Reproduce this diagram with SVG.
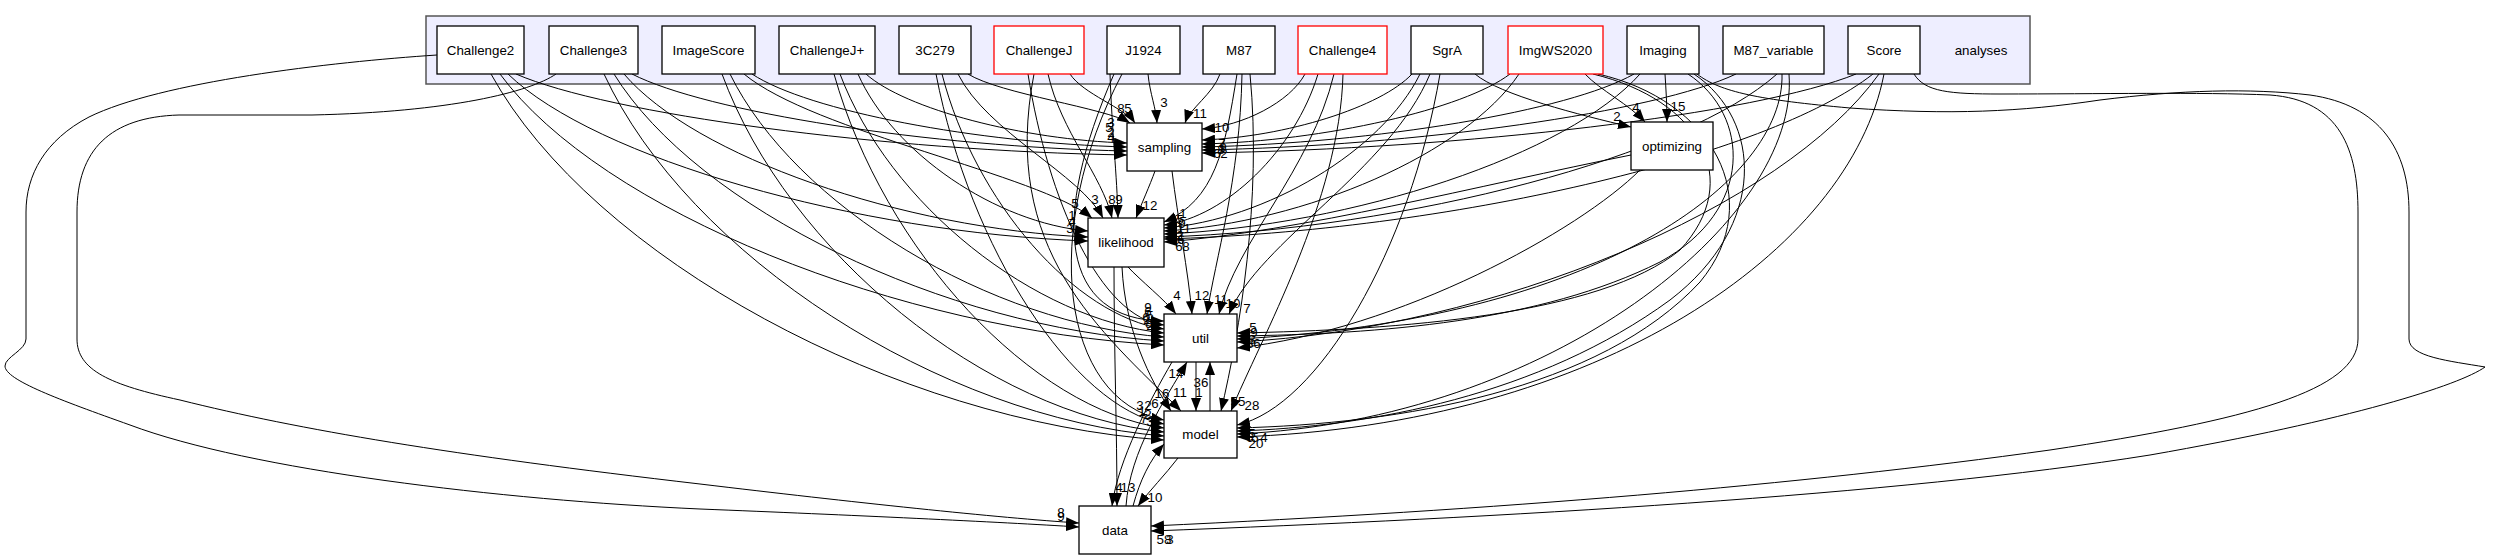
<svg xmlns="http://www.w3.org/2000/svg" width="2500" height="560" viewBox="0 0 2500 560">
<style>
.n rect{fill:#fff;stroke:#000;stroke-width:1.3}
.n.r rect{stroke:#ff0000}
text{font-family:"Liberation Sans",Arial,Helvetica,sans-serif;font-size:13.33px;fill:#000}
.n text{text-anchor:middle}
#edges path{fill:none;stroke:#000;stroke-width:1;marker-end:url(#ah)}
#edges text{text-anchor:middle}
</style>
<defs>
<marker id="ah" markerWidth="14" markerHeight="10" refX="13" refY="5" orient="auto" markerUnits="userSpaceOnUse"><path d="M0,0 L13,5 L0,10 z" fill="#000"/></marker>
</defs>
<rect width="2500" height="560" fill="#fff"/>
<g id="cluster_analyses">
<rect x="426" y="16" width="1604" height="68" fill="#eeeeff" stroke="#555" stroke-width="1.5"/>
<text x="1981" y="55" text-anchor="middle">analyses</text>
</g>
<g id="edges">
<!-- to sampling -->
<path d="M516,74 C608,114 883,151 1127,155"/>
<path d="M632,74 C706,112 929,147 1127,151"/>
<path d="M752,74 C808,111 977,143 1127,147"/>
<path d="M866,74 C905,109 1023,140 1127,143"/>
<path d="M968,74 C1000,94 1106,108 1130,123"/>
<path d="M1070,74 C1083,94 1125,108 1135,123"/>
<path d="M1148,74 C1150,94 1156,108 1157,123"/>
<path d="M1220,74 C1213,94 1190,108 1185,123"/>
<path d="M1305,74 C1290,102 1243,126 1202,129"/>
<path d="M1412,74 C1381,107 1286,137 1202,140"/>
<path d="M1510,74 C1464,109 1325,141 1202,144"/>
<path d="M1634,74 C1569,111 1375,143 1202,147"/>
<path d="M1736,74 C1656,112 1416,146 1202,150"/>
<path d="M1856,74 C1758,114 1464,149 1202,153"/>
<!-- to likelihood -->
<path d="M508,74 C595,158 856,233 1088,241"/>
<path d="M624,74 C694,156 902,229 1088,237"/>
<path d="M858,74 C893,153 996,223 1088,231"/>
<path d="M744,74 C814,132 1040,175 1092,218"/>
<path d="M958,74 C987,132 1081,175 1103,218"/>
<path d="M1048,74 C1061,132 1102,175 1112,218"/>
<path d="M1110,74 C1112,132 1117,175 1118,218"/>
<path d="M1237,74 C1225,150 1215,200 1164,222"/>
<path d="M1318,74 C1295,150 1226,217 1164,225"/>
<path d="M1420,74 C1382,151 1266,220 1164,228"/>
<path d="M1519,74 C1466,153 1306,223 1164,231"/>
<path d="M1640,74 C1569,154 1354,226 1164,234"/>
<path d="M1777,74 C1685,156 1409,229 1164,237"/>
<path d="M1873,74 C1767,157 1448,231 1164,239"/>
<path d="M1631,155 C1480,185 1300,232 1164,242"/>
<path d="M1155,171 C1150,185 1141,205 1136,218"/>
<!-- to util -->
<path d="M1128,267 C1140,280 1165,300 1176,314"/>
<path d="M1172,171 C1178,220 1188,270 1192,314"/>
<path d="M1242,74 C1240,180 1215,260 1207,314"/>
<path d="M1334,74 C1311,170 1236,242 1219,314"/>
<path d="M1430,74 C1390,170 1259,242 1229,314"/>
<path d="M500,74 C600,210 898,331 1164,345"/>
<path d="M614,74 C697,208 944,328 1164,341"/>
<path d="M730,74 C795,206 990,324 1164,337"/>
<path d="M840,74 C889,204 1034,320 1164,333"/>
<path d="M942,74 C975,202 1075,316 1164,329"/>
<path d="M1028,74 C1048,200 1100,318 1164,325"/>
<path d="M1114,74 C1050,220 1060,320 1164,321"/>
<path d="M1593,74 C1700,100 1745,180 1680,250 C1600,315 1400,330 1237,333"/>
<path d="M1688,74 C1750,115 1755,210 1660,262 C1540,322 1380,334 1237,336"/>
<path d="M1782,74 C1785,180 1600,320 1237,339"/>
<path d="M1879,74 C1783,208 1494,329 1237,342"/>
<path d="M1640,170 C1580,230 1400,330 1237,348"/>
<!-- to model -->
<path d="M1196,362 L1196,411"/>
<path d="M1210,411 L1210,362"/>
<path d="M1122,267 C1125,330 1150,380 1171,411"/>
<path d="M1034,74 C1000,250 1100,330 1181,411"/>
<path d="M491,74 C592,257 895,422 1164,440"/>
<path d="M604,74 C688,255 940,418 1164,436"/>
<path d="M722,74 C788,253 987,414 1164,432"/>
<path d="M834,74 C884,251 1032,410 1164,428"/>
<path d="M936,74 C970,249 1073,407 1164,424"/>
<path d="M1122,74 C1040,230 1060,400 1164,420"/>
<path d="M1133,506 C1140,480 1150,460 1164,444"/>
<path d="M1250,74 C1262,200 1240,330 1221,411"/>
<path d="M1343,74 C1340,200 1260,340 1231,411"/>
<path d="M1440,74 C1410,250 1318,407 1237,425"/>
<path d="M1598,74 C1712,100 1768,200 1700,282 C1600,390 1400,424 1237,428"/>
<path d="M1694,74 C1762,120 1768,225 1670,300 C1540,395 1370,427 1237,431"/>
<path d="M1789,74 C1800,220 1550,420 1237,434"/>
<path d="M1884,74 C1850,250 1600,425 1237,437"/>
<!-- to data -->
<path d="M437,55 C330,62 160,82 89,117 C45,140 26,175 26,212 L26,339 C26,350 5,357 5,366 C5,380 60,400 130,425 C250,470 500,500 700,509 C850,515 1000,522 1079,527"/>
<path d="M556,74 C530,92 450,112 312,115 L179,115 C110,117 77,150 77,212 L77,339 C77,370 110,385 180,400 C300,430 450,455 700,484 C850,502 1000,518 1079,523"/>
<path d="M1172,362 C1150,400 1118,460 1112,506"/>
<path d="M1114,267 C1114,350 1117,430 1117,506"/>
<path d="M1178,458 C1165,475 1150,490 1138,506"/>
<path d="M1126,506 C1130,450 1165,400 1187,362"/>
<path d="M1697,74 C1720,92 1760,100 1850,108 C1950,115 2020,112 2100,100 C2180,90 2250,88 2310,95 C2380,105 2409,150 2409,212 L2409,339 C2409,357 2450,361 2485,367 C2460,385 2350,420 2150,455 C1900,495 1500,518 1151,531"/>
<path d="M1914,74 C1925,92 1950,94 2000,94 C2100,94 2200,92 2270,95 C2340,100 2358,150 2358,212 L2358,339 C2358,390 2250,420 2050,450 C1800,485 1500,510 1151,526"/>
<!-- to optimizing -->
<path d="M1475,74 C1500,95 1580,115 1631,127"/>
<path d="M1585,74 C1600,90 1630,105 1645,122"/>
<path d="M1665,74 C1666,90 1667,105 1667,122"/>
<!-- labels -->
<text x="1111" y="142">4</text><text x="1111" y="137">2</text><text x="1109" y="132">5</text><text x="1111" y="127">3</text>
<text x="1121" y="113">8</text><text x="1128" y="113">5</text>
<text x="1164" y="107">3</text>
<text x="1200" y="118">11</text>
<text x="1222" y="132">10</text>
<text x="1222" y="148">7</text><text x="1223" y="152">9</text><text x="1217" y="158">6</text><text x="1224" y="158">2</text><text x="1221" y="154">8</text>
<text x="1070" y="233">3</text><text x="1072" y="226">4</text><text x="1072" y="220">1</text>
<text x="1075" y="208">5</text><text x="1095" y="204">3</text><text x="1112" y="204">8</text><text x="1119" y="204">9</text>
<text x="1150" y="210">12</text>
<text x="1183" y="218">1</text><text x="1180" y="224">5</text><text x="1182" y="228">9</text><text x="1184" y="233">11</text><text x="1180" y="240">2</text><text x="1181" y="244">6</text><text x="1179" y="251">6</text><text x="1186" y="251">8</text>
<text x="1177" y="300">4</text><text x="1202" y="300">12</text><text x="1221" y="304">11</text><text x="1233" y="308">10</text><text x="1247" y="313">7</text>
<text x="1148" y="316">6</text><text x="1150" y="320">5</text><text x="1147" y="324">2</text><text x="1149" y="328">8</text><text x="1146" y="322">6</text><text x="1150" y="330">2</text><text x="1148" y="312">9</text>
<text x="1253" y="332">5</text><text x="1254" y="337">9</text><text x="1250" y="348">3</text><text x="1257" y="348">6</text><text x="1252" y="344">3</text>
<text x="1176" y="378">14</text><text x="1201" y="387">36</text>
<text x="1199" y="397">1</text><text x="1162" y="398">16</text><text x="1180" y="397">11</text>
<text x="1238" y="406">55</text><text x="1252" y="410">28</text>
<text x="1140" y="410">3</text><text x="1148" y="410">2</text><text x="1155" y="408">6</text><text x="1142" y="416">1</text><text x="1148" y="419">2</text><text x="1144" y="423">7</text><text x="1150" y="426">3</text>
<text x="1252" y="438">5</text><text x="1250" y="442">6</text><text x="1256" y="448">20</text><text x="1255" y="442">5</text><text x="1264" y="442">4</text>
<text x="1061" y="517">8</text><text x="1061" y="521">9</text>
<text x="1119" y="492">4</text><text x="1128" y="492">13</text>
<text x="1155" y="502">10</text>
<text x="1164" y="544">58</text><text x="1170" y="544">3</text>
<text x="1617" y="121">2</text><text x="1636" y="112">4</text><text x="1678" y="111">15</text>
</g>
<g id="node_Challenge2" class="n"><rect x="437" y="26" width="87" height="48"/><text x="480.5" y="55">Challenge2</text></g>
<g id="node_Challenge3" class="n"><rect x="549" y="26" width="89" height="48"/><text x="593.5" y="55">Challenge3</text></g>
<g id="node_ImageScore" class="n"><rect x="662" y="26" width="93" height="48"/><text x="708.5" y="55">ImageScore</text></g>
<g id="node_ChallengeJplus" class="n"><rect x="779" y="26" width="96" height="48"/><text x="827" y="55">ChallengeJ+</text></g>
<g id="node_3C279" class="n"><rect x="899" y="26" width="72" height="48"/><text x="935" y="55">3C279</text></g>
<g id="node_ChallengeJ" class="n r"><rect x="994" y="26" width="90" height="48"/><text x="1039" y="55">ChallengeJ</text></g>
<g id="node_J1924" class="n"><rect x="1107" y="26" width="73" height="48"/><text x="1143.5" y="55">J1924</text></g>
<g id="node_M87" class="n"><rect x="1203" y="26" width="72" height="48"/><text x="1239" y="55">M87</text></g>
<g id="node_Challenge4" class="n r"><rect x="1298" y="26" width="89" height="48"/><text x="1342.5" y="55">Challenge4</text></g>
<g id="node_SgrA" class="n"><rect x="1411" y="26" width="72" height="48"/><text x="1447" y="55">SgrA</text></g>
<g id="node_ImgWS2020" class="n r"><rect x="1508" y="26" width="95" height="48"/><text x="1555.5" y="55">ImgWS2020</text></g>
<g id="node_Imaging" class="n"><rect x="1627" y="26" width="72" height="48"/><text x="1663" y="55">Imaging</text></g>
<g id="node_M87_variable" class="n"><rect x="1723" y="26" width="101" height="48"/><text x="1773.5" y="55">M87_variable</text></g>
<g id="node_Score" class="n"><rect x="1848" y="26" width="72" height="48"/><text x="1884" y="55">Score</text></g>
<g id="node_sampling" class="n"><rect x="1127" y="123" width="75" height="48"/><text x="1164.5" y="152">sampling</text></g>
<g id="node_optimizing" class="n"><rect x="1631" y="122" width="82" height="48"/><text x="1672" y="151">optimizing</text></g>
<g id="node_likelihood" class="n"><rect x="1088" y="218" width="76" height="49"/><text x="1126" y="247">likelihood</text></g>
<g id="node_util" class="n"><rect x="1164" y="314" width="73" height="48"/><text x="1200.5" y="343">util</text></g>
<g id="node_model" class="n"><rect x="1164" y="411" width="73" height="47"/><text x="1200.5" y="439">model</text></g>
<g id="node_data" class="n"><rect x="1079" y="506" width="72" height="48"/><text x="1115" y="535">data</text></g>
</svg>
